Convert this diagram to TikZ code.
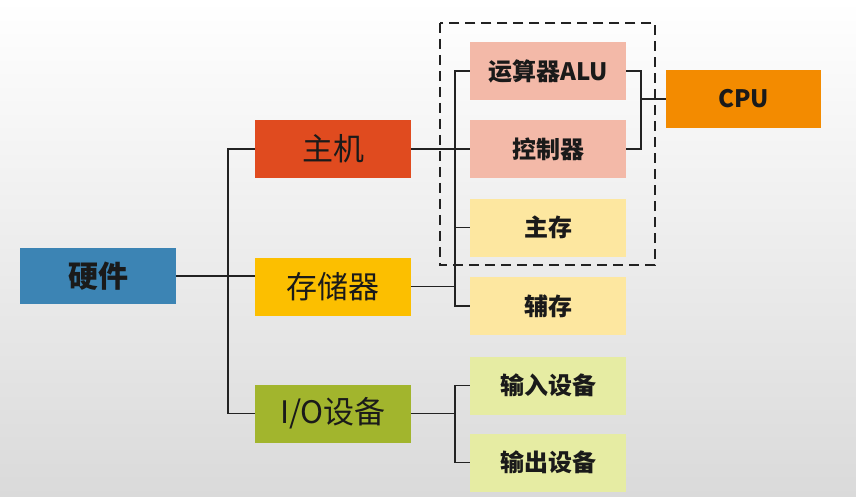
\documentclass[tikz,border=0pt]{standalone}
\usepackage{fontspec}
\setmainfont{Noto Sans CJK SC}
\definecolor{hwc}{RGB}{60,132,180}
\definecolor{zjc}{RGB}{224,75,31}
\definecolor{ccc}{RGB}{252,191,0}
\definecolor{ioc}{RGB}{162,181,45}
\definecolor{pinkc}{RGB}{243,185,168}
\definecolor{ylc}{RGB}{253,231,160}
\definecolor{grc}{RGB}{230,236,163}
\definecolor{cpuc}{RGB}{243,139,0}
\definecolor{txt}{RGB}{26,26,26}
\definecolor{bgbot}{RGB}{218,218,218}
\definecolor{linec}{RGB}{34,34,34}
\tikzset{
  box/.style={rectangle, inner sep=0pt, minimum width=156pt, minimum height=58pt, text=txt},
  bigtxt/.style={font=\fontsize{31}{31}\selectfont},
  smalltxt/.style={font=\bfseries\fontsize{24}{24}\selectfont},
  conn/.style={line width=1.8pt, draw=linec},
  dashbox/.style={draw=linec, line width=1.8pt, dash pattern=on 10pt off 6pt}
}
\begin{document}
\begin{tikzpicture}[x=1pt,y=-1pt]
\useasboundingbox (0,0) rectangle (856,497);
\shade[top color=white, bottom color=bgbot] (0,0) rectangle (856,497);
% main nodes
\node[box, fill=hwc, minimum height=56pt, font=\bfseries\fontsize{30}{30}\selectfont] (hw) at (98,276) {硬件};
\node[box, fill=zjc, bigtxt] (zj) at (333,149) {主机};
\node[box, fill=ccc, bigtxt] (cc) at (333,286.5) {存储器};
\node[box, fill=ioc, bigtxt] (io) at (333,413.5) {I/O设备};
% right nodes
\node[box, fill=pinkc, smalltxt] (alu) at (548,71) {运算器ALU};
\node[box, fill=pinkc, smalltxt] (ctl) at (548,149) {控制器};
\node[box, fill=ylc, smalltxt] (mm) at (548,227.5) {主存};
\node[box, fill=ylc, smalltxt] (aux) at (548,306) {辅存};
\node[box, fill=grc, smalltxt] (in) at (548,385.5) {输入设备};
\node[box, fill=grc, smalltxt] (out) at (548,462.5) {输出设备};
\node[box, fill=cpuc, minimum width=155pt, smalltxt] (cpu) at (743.5,99) {CPU};
% dashed group
\draw[dashbox] ([xshift=-30pt,yshift=19pt]alu.north west) rectangle ([xshift=29pt,yshift=-8.5pt]mm.south east);
% connectors
\draw[conn] (hw.east) -- (hw.east -| cc.west);
\draw[conn] (zj.west) -- ++(-27,0) |- (io.west);
\draw[conn] (zj.east) -- (ctl.west);
\draw[conn] (alu.west) -- ++(-15,0) |- (aux.west);
\draw[conn] (mm.west) -- ++(-15,0);
\draw[conn] (cc.east) -- ++(44,0);
\draw[conn] (in.west) -- ++(-15,0) |- (out.west);
\draw[conn] (io.east) -- ++(44,0);
\draw[conn] (alu.east) -- ++(15,0) |- (ctl.east);
\draw[conn] (cpu.west) -- ++(-25,0);
\end{tikzpicture}
\end{document}
